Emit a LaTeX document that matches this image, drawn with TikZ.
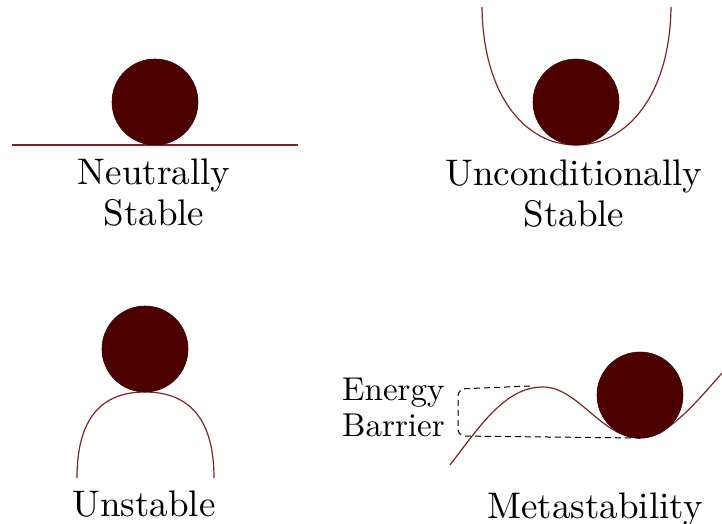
\documentclass[tikz,border=0pt]{standalone}
\usepackage{tikz}
\usetikzlibrary{calc}

\definecolor{balldark}{RGB}{76,0,0}
\definecolor{curvered}{RGB}{122,38,38}
\font\captionrm="[lmroman10-regular]:mapping=tex-text" at 37pt
\font\siderm="[lmroman10-regular]:mapping=tex-text" at 33pt

\begin{document}
\begin{tikzpicture}[
    x=1pt, y=-1pt,
    ball/.style={circle, fill=balldark, draw=balldark!80!black, line width=0.6pt, minimum size=86pt, inner sep=0pt},
    surface/.style={curvered, line width=1.2pt},
    barrier/.style={dash pattern=on 6pt off 4pt, line width=1pt, rounded corners=7pt},
    caption/.style={font=\captionrm, align=center, anchor=north, inner sep=0pt},
    sidetext/.style={font=\siderm, align=left, anchor=north west, inner sep=0pt}
]
\useasboundingbox (0,0) rectangle (722,523);
% neutrally stable
\coordinate (NL) at (12,145);
\coordinate (NR) at (298,145);
\draw[surface] (NL) -- (NR);
\node[ball] (nball) at (155,102) {};
\node[caption] (ntext) at (154,159) {Neutrally\\[6pt]Stable};
% unconditionally stable
\coordinate (UL) at (482,7);
\coordinate (UB) at (576,145);
\coordinate (UR) at (671,7);
\draw[surface] (UL) .. controls (483,95) and (525,145) .. (UB)
    .. controls (627,145) and (670,95) .. (UR);
\node[ball] (uball) at (576,102) {};
\node[caption] (utext) at (574,160) {Unconditionally\\[6pt]Stable};
% unstable
\coordinate (SL) at (77,478);
\coordinate (ST) at (145,392);
\coordinate (SR) at (214,478);
\draw[surface] (SL) .. controls (77,420) and (100,392) .. (ST)
    .. controls (190,392) and (214,420) .. (SR);
\node[ball] (sball) at (145,349) {};
\node[caption] (stext) at (144,491) {Unstable};
% metastable
\coordinate (ML) at (450,465);
\coordinate (MP) at (543,387);
\coordinate (MV) at (640,438);
\coordinate (MR) at (722,373);
\draw[surface] (ML) .. controls (480,426) and (505,387) .. (MP)
    .. controls (578,387) and (602,438) .. (MV)
    .. controls (666,438) and (694,405) .. (MR);
\node[ball] (mball) at (640,395) {};
\draw[barrier] (530,386) -- (458,389) -- (458,436) -- (MV);
\node[sidetext] (etext) at (342,378) {Energy\\[6pt]Barrier};
\node[caption] (mtext) at (595,493) {Metastability};
\end{tikzpicture}
\end{document}
